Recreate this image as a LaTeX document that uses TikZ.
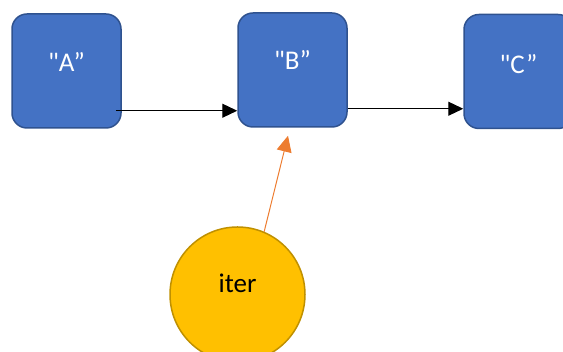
\documentclass[tikz,border=0pt]{standalone}
\usepackage{fontspec}
\setmainfont{Carlito}[Ligatures=TeXOff]
\usetikzlibrary{arrows.meta,calc}
\definecolor{boxfill}{HTML}{4472C4}
\definecolor{boxline}{HTML}{2F528F}
\definecolor{iterfill}{HTML}{FFC000}
\definecolor{iterline}{HTML}{BF9000}
\definecolor{iterarrow}{HTML}{ED7D31}
\tikzset{
  box/.style={draw=boxline, fill=boxfill, line width=1.5pt, rounded corners=15pt,
    minimum width=109pt, minimum height=114pt, inner sep=0pt},
  boxtext/.style={text=white, font=\fontsize{27}{30}\selectfont, inner sep=0pt},
  itercircle/.style={circle, draw=iterline, fill=iterfill, line width=1.5pt,
    minimum size=135pt, inner sep=0pt},
  itertext/.style={text=black, font=\fontsize{27}{30}\selectfont, inner sep=0pt},
  flow/.style={draw=black, line width=1.2pt, -{Triangle[length=15pt,width=14pt]}},
  feed/.style={draw=iterarrow, line width=1pt, -{Triangle[length=16pt,width=15pt]}}
}
\begin{document}
\begin{tikzpicture}[x=1pt,y=1pt]
  \useasboundingbox (0,0) rectangle (563,352);
  \clip (0,0) rectangle (563,352);
  % list nodes
  \node[box] (A) at (66.5,281) {};
  \node[box] (B) at (292.5,282) {};
  \node[box] (C) at (518.5,280.5) {};
  \node[boxtext] (At) at ($(A.center)+(0,9)$) {"A”};
  \node[boxtext] (Bt) at ($(B.center)+(0,10)$) {"B”};
  \node[boxtext] (Ct) at ($(C.center)+(0,7)$) {"C”};
  % iterator
  \node[itercircle] (it) at (237.5,57.5) {};
  \node[itertext] (itt) at ($(it.center)+(0,11)$) {iter};
  % links
  \coordinate (a1) at ($(A.south east)+(-6,18)$);
  \draw[flow] (a1) -- (a1 -| B.west);
  \coordinate (b1) at ($(B.south east)+(0,19)$);
  \draw[flow] (b1) -- (b1 -| C.west);
  \coordinate (bt) at ($(B.south)+(-4.5,-8)$);
  \draw[feed] (it.67) -- (bt);
\end{tikzpicture}
\end{document}
